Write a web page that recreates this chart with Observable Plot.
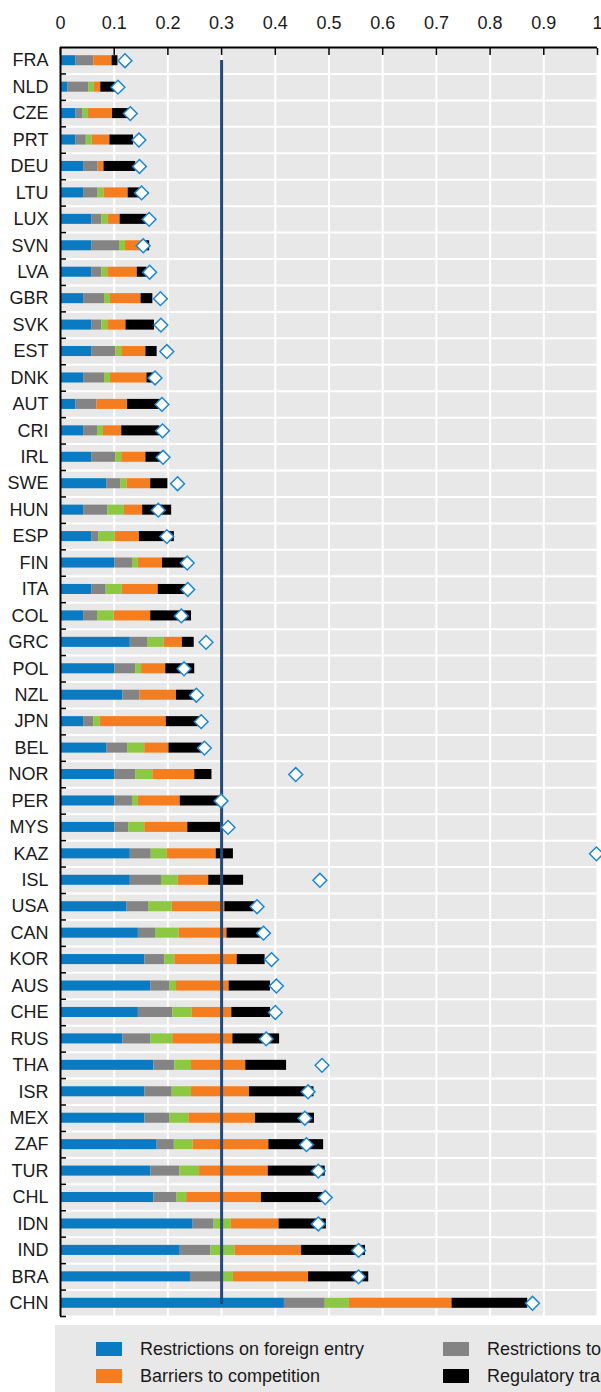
<!DOCTYPE html>
<html>
<head>
<meta charset="utf-8">
<script src="https://cdn.jsdelivr.net/npm/d3@7"></script>
<script src="https://cdn.jsdelivr.net/npm/@observablehq/plot@0.6"></script>
<style>
html, body { margin: 0; padding: 0; background: #fff; width: 601px; overflow: hidden; }
body { font-family: "Liberation Sans", Arial, sans-serif; color: #1a1a1a; }
#chart svg { display: block; }
#legendWrap { width: 601px; overflow: hidden; position: relative; height: 72px; }
#legend { position: absolute; left: 55px; top: 5px; width: 1100px; height: 80px; background: #e8e8e8; }
.item { position: absolute; font-size: 18px; line-height: 20px; white-space: nowrap; }
.sw { position: absolute; width: 26px; height: 14px; }
</style>
</head>
<body>
<div id="chart"></div>
<div id="legendWrap"><div id="legend"></div></div>
<script>
const countries = ["FRA","NLD","CZE","PRT","DEU","LTU","LUX","SVN","LVA","GBR","SVK","EST","DNK","AUT","CRI","IRL","SWE","HUN","ESP","FIN","ITA","COL","GRC","POL","NZL","JPN","BEL","NOR","PER","MYS","KAZ","ISL","USA","CAN","KOR","AUS","CHE","RUS","THA","ISR","MEX","ZAF","TUR","CHL","IDN","IND","BRA","CHN"];

const categories = ["Restrictions on foreign entry","Restrictions to movement of people","Other discriminatory measures","Barriers to competition","Regulatory transparency"];
const colors = ["#0a7bc2","#848484","#8cc841","#f47d20","#000000"];

const foreignEntry = [0.029,0.014,0.029,0.029,0.043,0.043,0.058,0.058,0.058,0.043,0.058,0.058,0.043,0.029,0.043,0.058,0.086,0.043,0.058,0.101,0.058,0.043,0.130,0.101,0.116,0.043,0.086,0.101,0.101,0.101,0.130,0.130,0.124,0.145,0.157,0.168,0.145,0.116,0.174,0.157,0.157,0.180,0.168,0.174,0.247,0.223,0.242,0.417];
const movementPeople = [0.033,0.039,0.013,0.019,0.027,0.027,0.019,0.052,0.019,0.039,0.019,0.045,0.039,0.039,0.026,0.045,0.026,0.045,0.013,0.033,0.027,0.026,0.032,0.039,0.032,0.019,0.039,0.039,0.033,0.026,0.039,0.058,0.040,0.032,0.037,0.036,0.064,0.052,0.039,0.051,0.047,0.032,0.054,0.043,0.039,0.057,0.061,0.076];
const otherDiscrim = [0,0.010,0.010,0.011,0,0.011,0.012,0.011,0.011,0.011,0.011,0.011,0.011,0,0.011,0.011,0.012,0.031,0.031,0.011,0.030,0.031,0.031,0.011,0,0.012,0.032,0.032,0.011,0.030,0.030,0.031,0.044,0.044,0.019,0.012,0.036,0.041,0.031,0.036,0.035,0.035,0.037,0.018,0.032,0.045,0.019,0.045];
const barriersComp = [0.034,0.012,0.045,0.033,0.011,0.045,0.022,0.034,0.055,0.057,0.034,0.045,0.068,0.057,0.034,0.045,0.044,0.034,0.045,0.045,0.067,0.068,0.034,0.045,0.068,0.123,0.045,0.078,0.078,0.080,0.091,0.057,0.098,0.089,0.116,0.098,0.074,0.112,0.101,0.108,0.124,0.141,0.128,0.139,0.089,0.124,0.140,0.191];
const regTransparency = [0.011,0.027,0.030,0.044,0.059,0.021,0.050,0.011,0.018,0.022,0.053,0.021,0.014,0.062,0.071,0.030,0.032,0.054,0.065,0.044,0.053,0.076,0.022,0.054,0.038,0.064,0.062,0.032,0.075,0.061,0.032,0.065,0.057,0.066,0.052,0.077,0.072,0.087,0.076,0.120,0.110,0.102,0.106,0.120,0.088,0.119,0.112,0.141];
const diamondValues = [0.120,0.107,0.130,0.146,0.147,0.151,0.165,0.154,0.166,0.186,0.187,0.198,0.176,0.189,0.190,0.191,0.218,0.182,0.198,0.236,0.237,0.225,0.271,0.230,0.253,0.262,0.268,0.438,0.299,0.312,0.998,0.483,0.366,0.378,0.393,0.402,0.400,0.383,0.487,0.461,0.455,0.458,0.480,0.493,0.480,0.555,0.555,0.879];

const xTicks = [0,0.1,0.2,0.3,0.4,0.5,0.6,0.7,0.8,0.9,1];
const threshold = [0.3];
// legend entries visible in the reference (the rest is cut off at the page edge)
const legendItems = [[0, 0, 0], [3, 0, 1], [1, 1, 0], [4, 1, 1]]; // [category index, column, row]

const series = [foreignEntry, movementPeople, otherDiscrim, barriersComp, regTransparency];
const data = [];
countries.forEach((c, i) => {
  categories.forEach((cat, j) => data.push({country: c, cat, value: series[j][i]}));
});

const chart = Plot.plot({
  width: 601,
  height: 1320,
  marginTop: 47,
  marginLeft: 60,
  marginRight: 4,
  marginBottom: 4,
  style: {fontFamily: "'Liberation Sans', Arial, sans-serif", fontSize: "18px", color: "#1a1a1a", background: "white", overflow: "visible"},
  x: {domain: [0, 1], label: null},
  y: {domain: countries, padding: 0, round: false, label: null},
  color: {domain: categories, range: colors},
  marks: [
    Plot.frame({fill: "#e8e8e8", stroke: null}),
    Plot.gridX({ticks: xTicks, stroke: "white", strokeOpacity: 1, strokeWidth: 2}),
    Plot.gridY({stroke: "white", strokeOpacity: 1, strokeWidth: 2, dy: 13.22}),
    Plot.barX(data, {y: "country", x: "value", fill: "cat", order: categories, insetTop: 8.2, insetBottom: 8.2}),
    Plot.ruleX(threshold, {y1: () => countries[0], y2: () => countries[countries.length - 1], insetTop: 13, insetBottom: 12, stroke: "#24497a", strokeWidth: 3}),
    Plot.dot(countries, {y: d => d, x: (d, i) => diamondValues[i], symbol: "diamond2", r: 6.2, fill: "white", stroke: "#1b87d0", strokeWidth: 1.5}),
    Plot.ruleX([0], {stroke: "black", strokeWidth: 2}),
    Plot.ruleY([countries[0]], {dy: -13.22, stroke: "black", strokeWidth: 2}),
    Plot.axisX({anchor: "top", ticks: xTicks, tickSize: 0, tickPadding: 19, tickFormat: d3.format("~g"), label: null, fontSize: 18, fill: "#1a1a1a"}),
    Plot.axisX({anchor: "top", ticks: xTicks, tickSize: -7, fill: "none", label: null, stroke: "black", strokeWidth: 1.5}),
    Plot.axisY({anchor: "left", tickSize: 0, tickPadding: 12, label: null, fontSize: 18, fill: "#1a1a1a"}),
    Plot.axisY({anchor: "left", tickSize: -6, fill: "none", dy: 13.22, label: null, stroke: "black", strokeWidth: 1.5})
  ]
});
document.getElementById("chart").append(chart);

// Legend (HTML, below the SVG)
const legend = document.getElementById("legend");
const colX = [41, 388];
const rowY = [14, 41];
legendItems.forEach(([ci, col, row]) => {
  const sw = document.createElement("div");
  sw.className = "sw";
  sw.style.left = colX[col] + "px";
  sw.style.top = (rowY[row] + 3) + "px";
  sw.style.background = colors[ci];
  legend.append(sw);
  const t = document.createElement("div");
  t.className = "item";
  t.style.left = (colX[col] + 44) + "px";
  t.style.top = rowY[row] + "px";
  t.textContent = categories[ci];
  legend.append(t);
});
</script>
</body>
</html>
